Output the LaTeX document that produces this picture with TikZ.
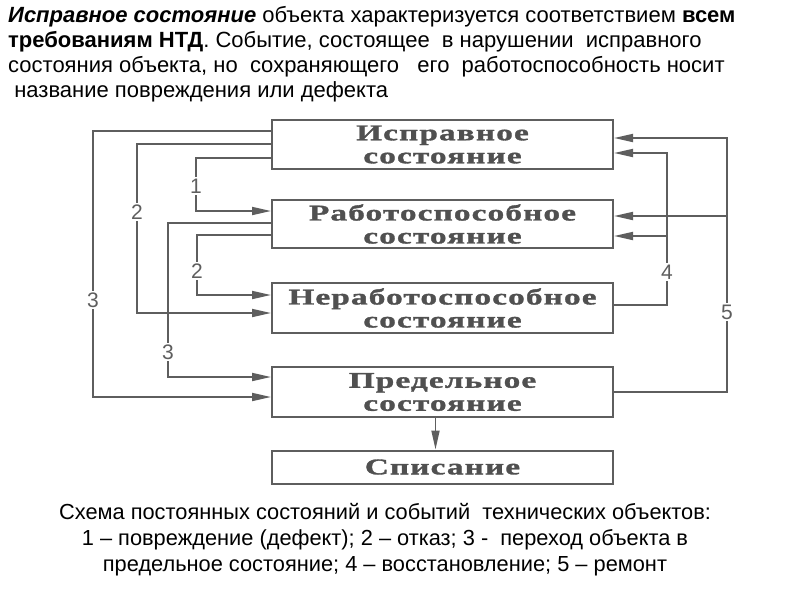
\documentclass[tikz,border=0pt]{standalone}
\usepackage{fontspec}
\setmainfont{Liberation Sans}
\newfontfamily\boxfont[FakeStretch=1.48,LetterSpace=5,FakeBold=1.5]{Liberation Serif Bold}
\usetikzlibrary{arrows.meta}
\definecolor{ink}{HTML}{5e5e5e}
\definecolor{boxtext}{HTML}{505050}
\tikzset{
  stbox/.style={draw=ink,line width=2pt,minimum width=341pt,inner sep=0pt,
    align=center,text=boxtext,font=\boxfont\fontsize{22.5}{23}\selectfont},
  conn/.style={draw=ink,line width=1.8pt},
  arr/.style={conn,-{Triangle[length=19pt,width=8pt]}},
  lbl/.style={fill=white,inner sep=1.5pt,text=ink,font=\fontsize{21}{21}\selectfont},
  para/.style={anchor=north west,align=left,inner sep=0pt,font=\fontsize{22}{25}\selectfont},
  captext/.style={align=center,inner sep=0pt,font=\fontsize{21.8}{26}\selectfont}
}
\begin{document}
\begin{tikzpicture}[x=1pt,y=-1pt]
\useasboundingbox (0,0) rectangle (800,600);
\node[para] (intro) at (8,6) {\textbf{\textit{Исправное состояние}} объекта характеризуется соответствием \textbf{всем}\\
\textbf{требованиям НТД}. Событие, состоящее~ в нарушении~ исправного\\
состояния объекта, но~ сохраняющего~~ его~ работоспособность носит\\
\ название повреждения или дефекта};

\node[stbox,minimum height=49pt] (b1) at (442.5,144.5) {Исправное\\состояние};
\node[stbox,minimum height=48pt] (b2) at (442.5,224) {Работоспособное\\состояние};
\node[stbox,minimum height=50pt] (b3) at (442.5,308) {Неработоспособное\\состояние};
\node[stbox,minimum height=50pt] (b4) at (442.5,392) {Предельное\\состояние};
\node[stbox,minimum height=33pt] (b5) at (442.5,467) {Списание};

% left side
\draw[arr] (b1.west |- 0,131) -| (93,397) -- (b4.west |- 0,397);
\draw[arr] (b1.west |- 0,144) -| (137,313) -- (b3.west |- 0,313);
\draw[arr] (b1.west |- 0,158) -| (196,211) -- (b2.west |- 0,211);
\draw[arr] (b2.west |- 0,223) -| (168,377) -- (b4.west |- 0,377);
\draw[arr] (b2.west |- 0,235) -| (197,295) -- (b3.west |- 0,295);
% right side
\draw[arr] (b4.east |- 0,392) -| (727,138) -- (b1.east |- 0,138);
\draw[arr] (727,216) -- (b2.east |- 0,216);
\draw[arr] (b3.east |- 0,305) -| (667,153) -- (b1.east |- 0,153);
\draw[arr] (667,236) -- (b2.east |- 0,236);
% down
\draw[arr] ([xshift=-7pt]b4.south) -- ([xshift=-7pt]b5.north);

\node[lbl] (l3a) at (93,300) {3};
\node[lbl] (l2a) at (137,212) {2};
\node[lbl] (l1) at (196,186) {1};
\node[lbl] (l2b) at (197,271) {2};
\node[lbl] (l3b) at (168,352) {3};
\node[lbl] (l4) at (667,272) {4};
\node[lbl] (l5) at (727,312) {5};

\node[captext] (caption) at (385,540) {Схема постоянных состояний и событий~ технических объектов:\\
1 -- повреждение (дефект); 2 -- отказ; 3 -~ переход объекта в\\
предельное состояние; 4 -- восстановление; 5 -- ремонт};
\end{tikzpicture}
\end{document}
